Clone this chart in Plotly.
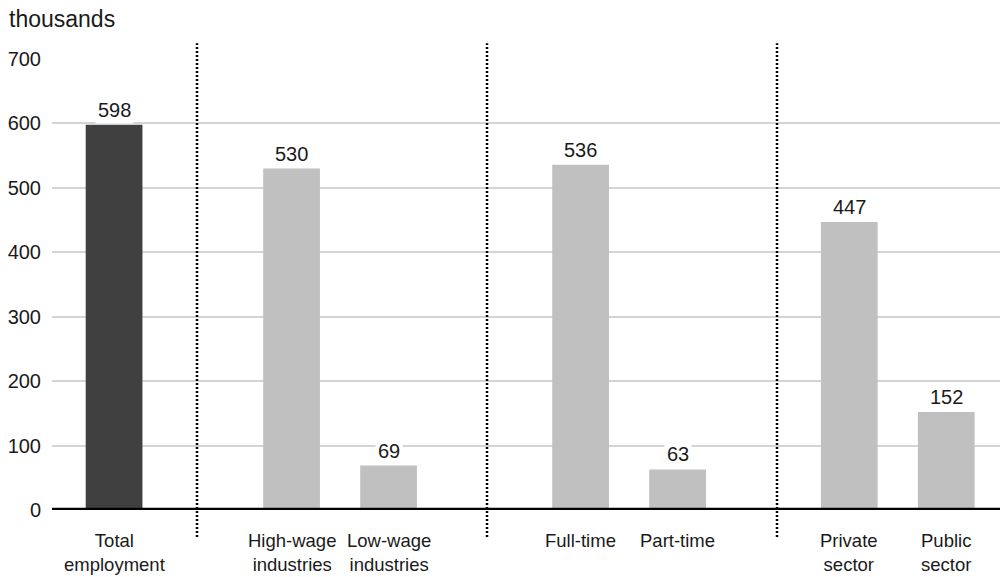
import plotly.graph_objects as go

# Employment breakdown, thousands
categories = ["Total<br>employment", "High-wage<br>industries", "Low-wage<br>industries",
              "Full-time", "Part-time", "Private<br>sector", "Public<br>sector"]
values = [598, 530, 69, 536, 63, 447, 152]
highlight = [True, False, False, False, False, False, False]
y_ticks = [0, 100, 200, 300, 400, 500, 600, 700]

# slot layout: the total bar, then three pairs separated by dotted dividers
group_of = [0, 1, 1, 2, 2, 3, 3]
pair_index = [0, 0, 1, 0, 1, 0, 1]
group_start = {0: 0.0, 1: 1.83, 2: 4.81, 3: 7.58}
xs = [group_start[g] + i for g, i in zip(group_of, pair_index)]
dividers = [0.855, 3.845, 6.835]

DARK = "#404040"
LIGHT = "#c0c0c0"
TEXT = "#1a1a1a"
FONT = "Liberation Sans, Arial, sans-serif"

fig = go.Figure()
fig.add_trace(go.Bar(
    x=xs, y=values, width=0.585,
    marker=dict(color=[DARK if h else LIGHT for h in highlight], line=dict(width=0)),
    hoverinfo="skip",
))

# value labels on a white backing so they sit over the gridlines
for x, v in zip(xs, values):
    fig.add_annotation(x=x, y=v, text=str(v), showarrow=False, yanchor="bottom",
                       yshift=1, bgcolor="white", borderpad=2,
                       font=dict(family=FONT, size=20, color=TEXT))

# category labels under the axis
for x, c in zip(xs, categories):
    fig.add_annotation(x=x, y=0, yref="paper", yshift=-19, text=c,
                       showarrow=False, yanchor="top", align="center", borderpad=0,
                       font=dict(family=FONT, size=18.5, color=TEXT))

# dotted group dividers
for d in dividers:
    fig.add_shape(type="line", x0=d, x1=d, xref="x", y0=-0.06, y1=1.035, yref="paper",
                  line=dict(color="black", width=2.5, dash="2px,2px"), layer="above")

# heavy baseline
fig.add_shape(type="line", x0=0, x1=1, xref="paper", y0=0, y1=0, yref="y",
              line=dict(color="black", width=4.5), layer="above")

fig.add_annotation(x=0, xref="paper", xshift=-45, y=1, yref="paper", yshift=40,
                   text="thousands", showarrow=False, xanchor="left", yanchor="middle",
                   font=dict(family=FONT, size=23, color=TEXT))

fig.update_layout(
    width=1000, height=577,
    margin=dict(l=52, r=0, t=59, b=67),
    paper_bgcolor="white", plot_bgcolor="white",
    showlegend=False,
    font=dict(family=FONT, size=20, color=TEXT),
    xaxis=dict(range=[-0.64, 9.134], showticklabels=False, showgrid=False,
               zeroline=False, showline=False, fixedrange=True),
    yaxis=dict(range=[0, 700], tickvals=y_ticks, showgrid=True, gridcolor="#d4d4d4",
               gridwidth=2, zeroline=False, showline=False, ticks="",
               ticklabelstandoff=10, tickfont=dict(family=FONT, size=20, color=TEXT),
               fixedrange=True),
)

fig.write_html("out.html")
